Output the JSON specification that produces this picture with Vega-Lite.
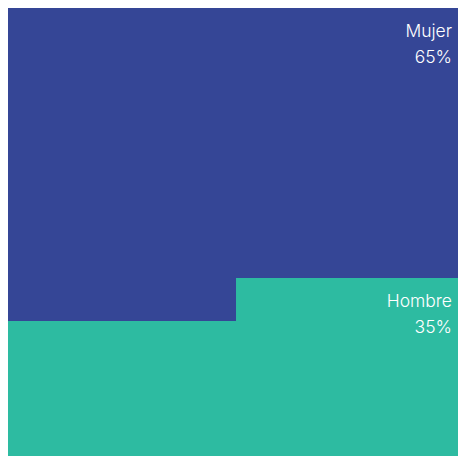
{
  "$schema": "https://vega.github.io/schema/vega-lite/v6.json",
  "autosize": {"type": "fit", "contains": "padding"},
  "width": 458,
  "height": 456,
  "padding": {"left": 8, "top": 8, "right": 0, "bottom": 0},
  "background": "white",
  "config": {"view": {"stroke": null}},
  "datasets": {
    "cells": [
      {"categoria": "Hombre", "x0": 0, "x1": 100, "y0": 0, "y1": 30.13},
      {"categoria": "Hombre", "x0": 50.67, "x1": 100, "y0": 30.13, "y1": 39.73},
      {"categoria": "Mujer", "x0": 0, "x1": 50.67, "y0": 30.13, "y1": 39.73},
      {"categoria": "Mujer", "x0": 0, "x1": 100, "y0": 39.73, "y1": 100}
    ],
    "labels": [
      {"categoria": "Mujer", "pct": "65%", "x": 100, "y": 100},
      {"categoria": "Hombre", "pct": "35%", "x": 100, "y": 39.73}
    ]
  },
  "layer": [
    {
      "data": {"name": "cells"},
      "mark": {"type": "rect", "strokeWidth": 0},
      "encoding": {
        "x": {"field": "x0", "type": "quantitative", "scale": {"domain": [0, 100], "nice": false, "zero": false}, "axis": null},
        "x2": {"field": "x1"},
        "y": {"field": "y0", "type": "quantitative", "scale": {"domain": [0, 100], "nice": false, "zero": false}, "axis": null},
        "y2": {"field": "y1"},
        "color": {"field": "categoria", "type": "nominal", "scale": {"domain": ["Mujer", "Hombre"], "range": ["#354696", "#2DBBA1"]}, "legend": null}
      }
    },
    {
      "data": {"name": "labels"},
      "mark": {"type": "text", "align": "right", "baseline": "alphabetic", "dx": -6, "dy": 29, "font": "Inter", "fontSize": 17.5, "fontWeight": 300, "color": "white"},
      "encoding": {
        "x": {"field": "x", "type": "quantitative"},
        "y": {"field": "y", "type": "quantitative"},
        "text": {"field": "categoria"}
      }
    },
    {
      "data": {"name": "labels"},
      "mark": {"type": "text", "align": "right", "baseline": "alphabetic", "dx": -6, "dy": 55, "font": "Inter", "fontSize": 17.5, "fontWeight": 300, "color": "white"},
      "encoding": {
        "x": {"field": "x", "type": "quantitative"},
        "y": {"field": "y", "type": "quantitative"},
        "text": {"field": "pct"}
      }
    }
  ]
}
